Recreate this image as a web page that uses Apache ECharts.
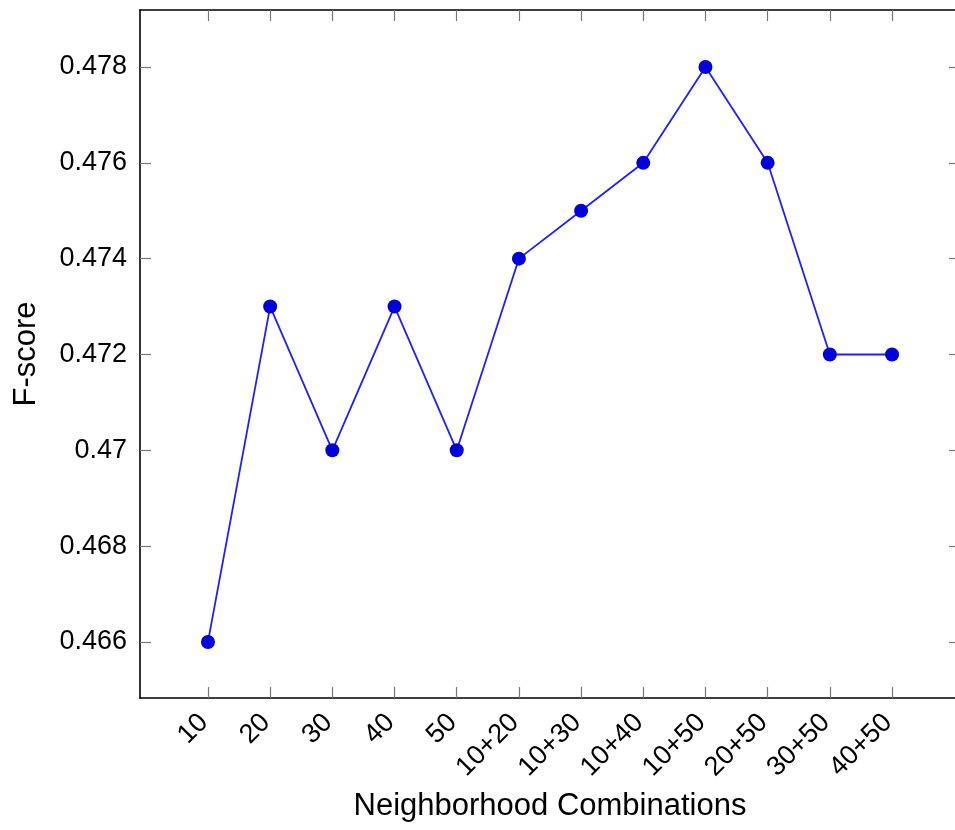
<!DOCTYPE html>
<html>
<head>
<meta charset="utf-8">
<script src="https://cdn.jsdelivr.net/npm/echarts@6/dist/echarts.min.js"></script>
<style>
html,body{margin:0;padding:0;background:#fff;}
#chart{width:955px;height:830px;}
</style>
</head>
<body>
<div id="chart"></div>
<script>
const categories = ['10','20','30','40','50','10+20','10+30','10+40','10+50','20+50','30+50','40+50'];
const fscores = [0.466, 0.473, 0.470, 0.473, 0.470, 0.474, 0.475, 0.476, 0.478, 0.476, 0.472, 0.472];
const yTicks = [0.466, 0.468, 0.470, 0.472, 0.474, 0.476, 0.478];

const idx = categories.map((c, i) => i);
const seriesData = fscores.map((v, i) => [i, v]);
const FONT = '"Liberation Sans", Arial, Helvetica, sans-serif';

const chart = echarts.init(document.getElementById('chart'), null, {renderer: 'canvas'});
const axisLine = {show: true, onZero: false, lineStyle: {color: '#000', width: 1.6}};
const tickStyle = {color: '#777', width: 1.2};

chart.setOption({
  animation: false,
  backgroundColor: '#fff',
  grid: {left: 140, top: 10, width: 820, height: 688, containLabel: false, outerBoundsMode: 'none'},
  xAxis: [{
    type: 'value', position: 'bottom',
    min: -1.093, max: 12.093,
    axisLine: axisLine,
    axisTick: {show: true, inside: true, length: 11, lineStyle: tickStyle, customValues: idx},
    axisLabel: {show: true, rotate: 45, margin: 16, fontSize: 27, color: '#000', fontFamily: FONT,
      padding: [0, 6, 0, 0],
      customValues: idx, formatter: v => categories[Math.round(v)]},
    splitLine: {show: false},
    name: 'Neighborhood Combinations', nameLocation: 'middle', nameGap: 93,
    nameTextStyle: {fontSize: 31, color: '#000', fontFamily: FONT}
  }, {
    type: 'value', position: 'top',
    min: -1.093, max: 12.093,
    axisLine: axisLine,
    axisTick: {show: true, inside: true, length: 11, lineStyle: tickStyle, customValues: idx},
    axisLabel: {show: false},
    splitLine: {show: false}
  }],
  yAxis: [{
    type: 'value', position: 'left',
    min: 0.46483, max: 0.47919,
    axisLine: axisLine,
    axisTick: {show: true, inside: true, length: 11, lineStyle: tickStyle, customValues: yTicks},
    axisLabel: {show: true, margin: 13, fontSize: 27, color: '#000', fontFamily: FONT,
      customValues: yTicks, formatter: v => String(+v.toFixed(3))},
    splitLine: {show: false},
    name: 'F-score', nameLocation: 'middle', nameGap: 98, nameRotate: 90,
    nameTextStyle: {fontSize: 31, color: '#000', fontFamily: FONT}
  }, {
    type: 'value', position: 'right',
    min: 0.46483, max: 0.47919,
    axisLine: axisLine,
    axisTick: {show: true, inside: true, length: 11, lineStyle: tickStyle, customValues: yTicks},
    axisLabel: {show: false},
    splitLine: {show: false}
  }],
  series: [{
    type: 'line',
    xAxisIndex: 0, yAxisIndex: 0,
    data: seriesData,
    symbol: 'circle', symbolSize: 14,
    lineStyle: {color: '#1f1fff', width: 1.8},
    itemStyle: {color: '#0000dc', borderWidth: 0},
    emphasis: {disabled: true}
  }]
});
</script>
</body>
</html>
